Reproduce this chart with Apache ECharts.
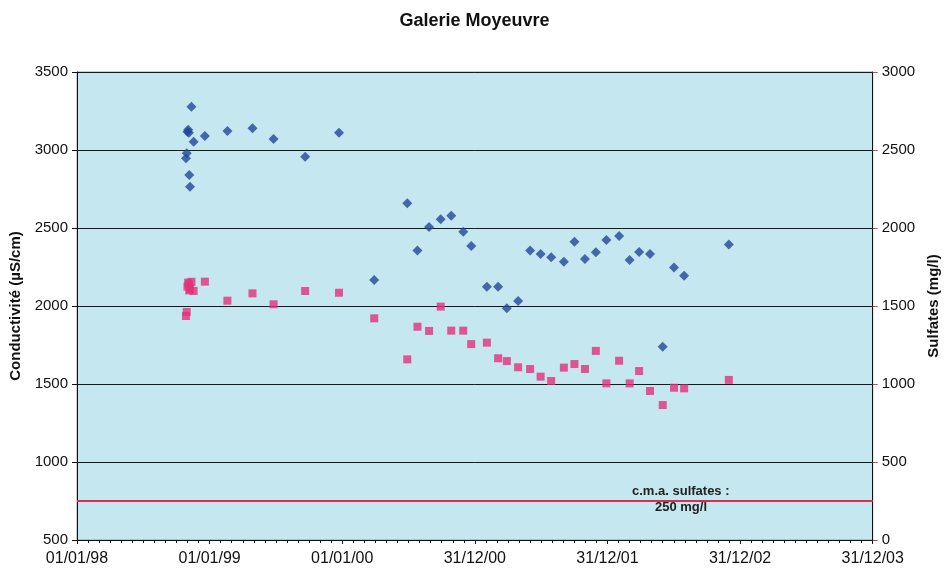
<!DOCTYPE html>
<html>
<head>
<meta charset="utf-8">
<script src="https://cdn.jsdelivr.net/npm/echarts@6/dist/echarts.min.js"></script>
<style>
html,body{margin:0;padding:0;background:#fff;}
#chart{width:949px;height:574px;}
</style>
</head>
<body>
<div id="chart"></div>
<script>
const title = 'Galerie Moyeuvre';
const leftAxisName = 'Conductivité (µS/cm)';
const rightAxisName = 'Sulfates (mg/l)';
const limitLabel1 = 'c.m.a. sulfates :';
const limitLabel2 = '250 mg/l';
const limitValue = 250;
const axisStart = '1998-01-01';
const axisEnd = '2003-12-31';
const xTickLabels = ['01/01/98','01/01/99','01/01/00','31/12/00','31/12/01','31/12/02','31/12/03'];

const dates = [
 '1998-10-28','1998-10-30','1998-11-01','1998-11-03','1998-11-05','1998-11-06','1998-11-08','1998-11-12','1998-11-18',
 '1998-12-19','1999-02-19','1999-04-29','1999-06-26','1999-09-21','1999-12-23',
 '2000-03-29','2000-06-28','2000-07-26','2000-08-27','2000-09-28','2000-10-27','2000-11-29','2000-12-21',
 '2001-02-02','2001-03-05','2001-03-29','2001-04-29','2001-06-01','2001-06-30','2001-07-29','2001-09-02',
 '2001-10-01','2001-10-30','2001-11-29','2001-12-28','2002-02-01','2002-03-02','2002-03-28','2002-04-27',
 '2002-06-01','2002-07-02','2002-07-30','2002-11-30'
];
const conductivite = [
 2947,2979,3117,3130,3110,2840,2765,3278,3053,
 3090,3122,3139,3071,2957,3111,
 2167,2658,2355,2506,2556,2579,2476,2385,
 2124,2124,1985,2032,2355,2333,2312,2284,
 2412,2301,2344,2423,2449,2295,2346,2333,
 1739,2246,2194,2395
];
const sulfates = [
 1436,1462,1624,1650,1640,1600,1610,1655,1596,
 1656,1534,1581,1511,1596,1585,
 1421,1158,1367,1340,1496,1342,1342,1256,
 1265,1165,1147,1107,1096,1047,1019,1105,
 1128,1096,1212,1004,1149,1004,1083,955,
 865,976,972,1026
];

function dayOffset(s){
  const p = s.split('-').map(Number);
  const q = axisStart.split('-').map(Number);
  return Math.round((Date.UTC(p[0],p[1]-1,p[2]) - Date.UTC(q[0],q[1]-1,q[2]))/86400000);
}
const xMax = dayOffset(axisEnd);
const condData = dates.map((d,i)=>[dayOffset(d), conductivite[i]]);
const sulfData = dates.map((d,i)=>[dayOffset(d), sulfates[i]]);
const limitData = [[0, limitValue],[xMax, limitValue]];

const FONT = 'Liberation Sans, Arial, sans-serif';
const plain = v => String(v);
const chart = echarts.init(document.getElementById('chart'), null, {renderer:'canvas'});
chart.setOption({
  backgroundColor:'#ffffff',
  animation:false,
  textStyle:{fontFamily:FONT},
  title:{text:title,left:'center',top:7,textStyle:{fontFamily:FONT,fontSize:18,fontWeight:'bold',color:'#111'}},
  grid:{left:77,right:74,top:72,bottom:34,show:true,backgroundColor:'#c4e7f0',borderColor:'#9a9a9a',borderWidth:1},
  xAxis:{
    type:'value',min:0,max:xMax,interval:365,
    axisLine:{show:true,onZero:false,lineStyle:{color:'#111',width:1}},
    axisTick:{show:true,length:4,lineStyle:{color:'#111'}},
    minorTick:{show:true,splitNumber:12,length:3,lineStyle:{color:'#111'}},
    splitLine:{show:false},
    axisLabel:{fontFamily:FONT,fontSize:16,color:'#111',margin:11,
      formatter:function(v){return xTickLabels[Math.round(v/365)] || '';}}
  },
  yAxis:[
    {type:'value',min:500,max:3500,interval:500,position:'left',
     name:leftAxisName,nameLocation:'middle',nameGap:51,nameRotate:90,
     nameTextStyle:{fontFamily:FONT,fontSize:15,fontWeight:'bold',color:'#111'},
     axisLine:{show:true,lineStyle:{color:'#111'}},
     axisTick:{show:true,length:5,lineStyle:{color:'#111'}},
     axisLabel:{fontFamily:FONT,fontSize:15,color:'#111',margin:9,formatter:plain},
     splitLine:{show:true,lineStyle:{color:'#1a1a1a',width:1}}},
    {type:'value',min:0,max:3000,interval:500,position:'right',
     name:rightAxisName,nameLocation:'middle',nameGap:52,nameRotate:90,
     nameTextStyle:{fontFamily:FONT,fontSize:15,fontWeight:'bold',color:'#111'},
     axisLine:{show:true,lineStyle:{color:'#111'}},
     axisTick:{show:true,length:5,lineStyle:{color:'#d04070'}},
     axisLabel:{fontFamily:FONT,fontSize:15,color:'#111',margin:9,formatter:plain},
     splitLine:{show:false}}
  ],
  series:[
    {name:'Limite',type:'line',yAxisIndex:1,data:limitData,showSymbol:false,symbol:'none',
     lineStyle:{color:'#dc2a50',width:2},z:3,silent:true},
    {name:leftAxisName,type:'scatter',yAxisIndex:0,data:condData,symbol:'diamond',symbolSize:10,
     itemStyle:{color:'#24479a'},z:5},
    {name:rightAxisName,type:'scatter',yAxisIndex:1,data:sulfData,symbol:'rect',symbolSize:8,
     itemStyle:{color:'#e3317a'},z:4}
  ],
  graphic:[
    {type:'text',left:632,top:485,z:10,style:{text:limitLabel1,fontFamily:FONT,fontSize:13,fontWeight:'bold',fill:'#222'}},
    {type:'text',left:655,top:501,z:10,style:{text:limitLabel2,fontFamily:FONT,fontSize:13,fontWeight:'bold',fill:'#222'}}
  ]
});
</script>
</body>
</html>
